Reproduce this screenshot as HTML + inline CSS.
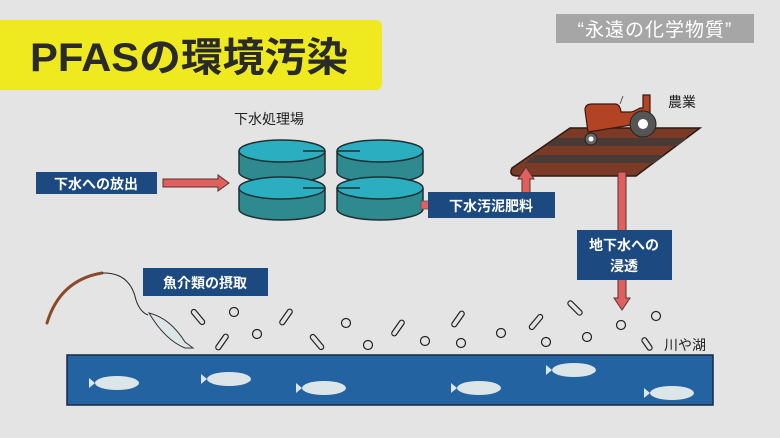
<!DOCTYPE html>
<html><head><meta charset="utf-8"><style>
html,body{margin:0;padding:0;background:#e4e4e4;}
svg{display:block;}
text{font-family:"Liberation Sans","Noto Sans CJK JP",sans-serif;}
</style></head><body>
<svg width="780" height="438" viewBox="0 0 780 438" xmlns="http://www.w3.org/2000/svg">
<rect width="780" height="438" fill="#e4e4e4"/>
<rect x="-10" y="20" width="392" height="70" rx="6" fill="#eeea1f"/>
<text x="30" y="71" font-size="40" font-weight="bold" fill="#2a2a2a" textLength="318" lengthAdjust="spacingAndGlyphs">PFASの環境汚染</text>
<rect x="556" y="14" width="198" height="29" fill="#a6a6a6"/>
<text x="655" y="36" font-size="19" fill="#fff" text-anchor="middle" letter-spacing="1">“永遠の化学物質”</text>

<text x="234" y="124" font-size="14" fill="#222">下水処理場</text>
<g stroke="#1f2f33" stroke-width="1.5">
<path d="M239 151 V172 A43 11 0 0 0 325 172 V151" fill="#2e8a8e"/>
<ellipse cx="282" cy="151" rx="43" ry="11" fill="#2aaec0"/>
<line x1="303" y1="151" x2="325" y2="151"/>
<path d="M239 188 V209 A43 11 0 0 0 325 209 V188" fill="#2e8a8e"/>
<ellipse cx="282" cy="188" rx="43" ry="11" fill="#2aaec0"/>
<line x1="303" y1="188" x2="325" y2="188"/>
<path d="M337 151 V172 A43 11 0 0 0 423 172 V151" fill="#2e8a8e"/>
<ellipse cx="380" cy="151" rx="43" ry="11" fill="#2aaec0"/>
<line x1="337" y1="151" x2="360" y2="151"/>
<path d="M337 188 V209 A43 11 0 0 0 423 209 V188" fill="#2e8a8e"/>
<ellipse cx="380" cy="188" rx="43" ry="11" fill="#2aaec0"/>
<line x1="337" y1="188" x2="360" y2="188"/>
</g>
<rect x="421" y="201" width="10" height="8" fill="#e06060" stroke="#555" stroke-width="0.8"/>

<rect x="36" y="172" width="121" height="22" fill="#1c4a80"/>
<text x="96" y="189" font-size="14" font-weight="bold" fill="#fff" text-anchor="middle">下水への放出</text>
<path d="M163 179 H218 V175 L229 183 L218 191 V187 H163 Z" fill="#e06060" stroke="#5a3030" stroke-width="1"/>

<!-- field -->
<path d="M570 128 H700 L636 176 H518 Q508 176 512 168 Z" fill="#7b3a26" stroke="#2a1a14" stroke-width="1.5"/>
<path d="M557 138 H687 L677 146 H546 Z" fill="#4a3a36"/>
<path d="M535 155 H664 L654 163 H525 Z" fill="#4a3a36"/>
<!-- tractor -->
<path d="M585 110 Q585 104 592 104 H615 Q620 104 621 112 L630 112 Q633 112 640 108 H643 V95 H650 V113 L650 122 L588 132 Z" fill="#b24424" stroke="#3a1a10" stroke-width="1.2"/>
<line x1="620" y1="104" x2="623" y2="96" stroke="#555"/>
<circle cx="643" cy="124" r="13" fill="#555" stroke="#222"/>
<circle cx="643" cy="124" r="5" fill="#fff"/>
<circle cx="591" cy="139" r="6" fill="#666" stroke="#222"/>
<circle cx="591" cy="139" r="2.5" fill="#fff"/>
<text x="668" y="107" font-size="14" fill="#222">農業</text>

<!-- arrows -->
<path d="M522 195 V179 H518 L526 167 L534 179 H530 V195 Z" fill="#e06060" stroke="#5a3030" stroke-width="1"/>
<rect x="428" y="192" width="127" height="26" fill="#1c4a80"/>
<text x="491" y="211" font-size="14" font-weight="bold" fill="#fff" text-anchor="middle">下水汚泥肥料</text>

<path d="M618 172 V298 H614 L622 310 L630 298 H626 V172 Z" fill="#e06060" stroke="#5a3030" stroke-width="1"/>
<rect x="577" y="230" width="95" height="50" fill="#1c4a80"/>
<text x="624" y="250" font-size="14" font-weight="bold" fill="#fff" text-anchor="middle">地下水への</text>
<text x="624" y="271" font-size="14" font-weight="bold" fill="#fff" text-anchor="middle">浸透</text>

<rect x="143" y="268" width="125" height="28" fill="#1c4a80"/>
<text x="205" y="288" font-size="14" font-weight="bold" fill="#fff" text-anchor="middle">魚介類の摂取</text>

<path d="M47 323 Q60 280 102 273" fill="none" stroke="#8a4a2a" stroke-width="3" stroke-linecap="round"/>
<path d="M102 273 Q130 272 136 300 Q140 312 148 315" fill="none" stroke="#222" stroke-width="1"/>
<path d="M149 313 Q170 318 185 342 L193 348 L185 348 Q165 340 149 313 Z" fill="#dce6e8" stroke="#333" stroke-width="1"/>

<g fill="#e4e4e4" stroke="#222" stroke-width="1.2">
<circle cx="234" cy="312" r="4.5"/><circle cx="257" cy="334" r="4.5"/><circle cx="346" cy="323" r="4.5"/><circle cx="368" cy="345" r="4.5"/>
<circle cx="425" cy="341" r="4.5"/><circle cx="461" cy="343" r="4.5"/><circle cx="501" cy="333" r="4.5"/><circle cx="546" cy="342" r="4.5"/>
<circle cx="587" cy="337" r="4.5"/><circle cx="621" cy="325" r="4.5"/><circle cx="656" cy="316" r="4.5"/>
<rect x="-9" y="-2.5" width="18" height="5" rx="2.5" transform="translate(198 317) rotate(50)"/>
<rect x="-9" y="-2.5" width="18" height="5" rx="2.5" transform="translate(222 342) rotate(-55)"/>
<rect x="-9" y="-2.5" width="18" height="5" rx="2.5" transform="translate(286 317) rotate(-55)"/>
<rect x="-9" y="-2.5" width="18" height="5" rx="2.5" transform="translate(317 342) rotate(50)"/>
<rect x="-9" y="-2.5" width="18" height="5" rx="2.5" transform="translate(398 328) rotate(-55)"/>
<rect x="-9" y="-2.5" width="18" height="5" rx="2.5" transform="translate(458 319) rotate(-55)"/>
<rect x="-9" y="-2.5" width="18" height="5" rx="2.5" transform="translate(536 322) rotate(-50)"/>
<rect x="-9" y="-2.5" width="18" height="5" rx="2.5" transform="translate(575 308) rotate(45)"/>
<rect x="-7" y="-2.5" width="14" height="5" rx="2.5" transform="translate(647 344) rotate(55)"/>
</g>
<text x="664" y="350" font-size="14" fill="#222">川や湖</text>

<rect x="67" y="355" width="646" height="50" fill="#2463a2" stroke="#1a2a40" stroke-width="1.5"/>
<g fill="#dce6e8">
<g transform="translate(114 383)"><ellipse cx="3" cy="0" rx="22" ry="7"/><path d="M-19 0 L-25 -5 L-25 5 Z"/></g>
<g transform="translate(226 379)"><ellipse cx="3" cy="0" rx="22" ry="7"/><path d="M-19 0 L-25 -5 L-25 5 Z"/></g>
<g transform="translate(321 388)"><ellipse cx="3" cy="0" rx="22" ry="7"/><path d="M-19 0 L-25 -5 L-25 5 Z"/></g>
<g transform="translate(476 388)"><ellipse cx="3" cy="0" rx="22" ry="7"/><path d="M-19 0 L-25 -5 L-25 5 Z"/></g>
<g transform="translate(571 370)"><ellipse cx="3" cy="0" rx="22" ry="7"/><path d="M-19 0 L-25 -5 L-25 5 Z"/></g>
<g transform="translate(669 393)"><ellipse cx="3" cy="0" rx="22" ry="7"/><path d="M-19 0 L-25 -5 L-25 5 Z"/></g>
</g>
</svg>
</body></html>
